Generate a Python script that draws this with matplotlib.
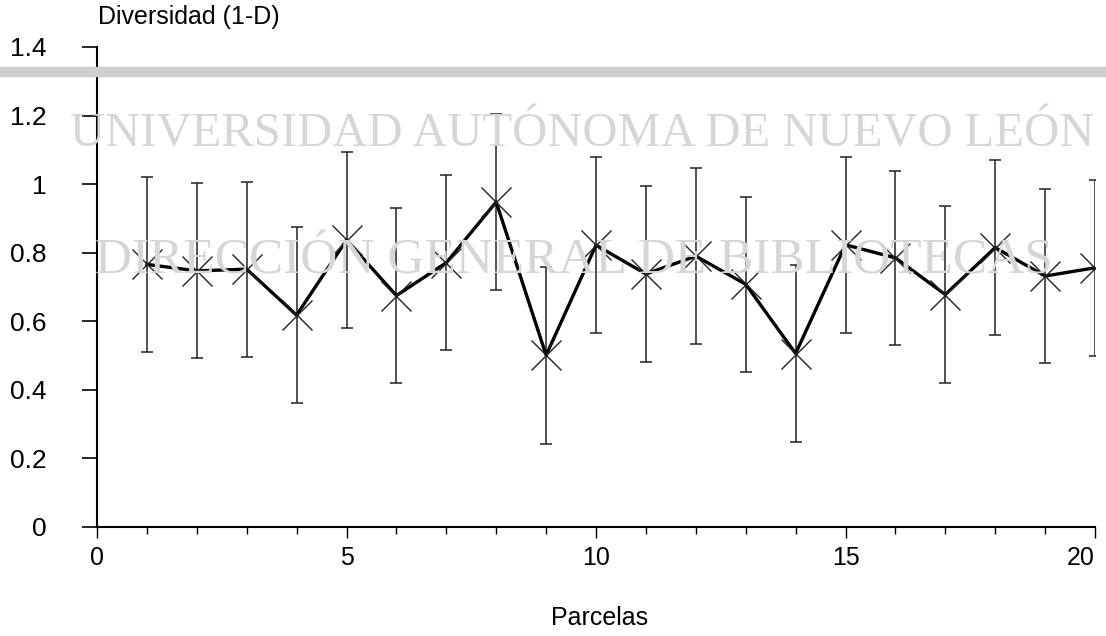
import matplotlib
matplotlib.use("Agg")
import matplotlib.pyplot as plt
from matplotlib.ticker import MultipleLocator
import numpy as np

# Diversidad de Simpson (1-D) por parcela, con barras de error
parcelas = [1, 2, 3, 4, 5, 6, 7, 8, 9, 10, 11, 12, 13, 14, 15, 16, 17, 18, 19, 20]
diversidad = [0.766, 0.747, 0.752, 0.618, 0.837, 0.675, 0.771, 0.948, 0.501, 0.822,
              0.738, 0.790, 0.708, 0.506, 0.823, 0.785, 0.678, 0.815, 0.732, 0.756]
error = [0.255, 0.255, 0.255, 0.257, 0.257, 0.256, 0.255, 0.257, 0.258, 0.257,
         0.256, 0.256, 0.255, 0.257, 0.257, 0.254, 0.257, 0.255, 0.255, 0.257]
xticks = [0, 5, 10, 15, 20]
yticks = [0, 0.2, 0.4, 0.6, 0.8, 1, 1.2, 1.4]
ytick_labels = ["0", "0.2", "0.4", "0.6", "0.8", "1", "1.2", "1.4"]

plt.rcParams['font.family'] = ['Liberation Sans', 'DejaVu Sans']

fig = plt.figure(figsize=(11.06, 6.36), dpi=100)
ax = fig.add_axes([97 / 1106, 1 - 527 / 636, 998 / 1106, 480 / 636])

# watermark from the scanned page
wm = dict(family=['Liberation Serif', 'DejaVu Serif'], color='#d6d6d6',
          ha='center', va='baseline', zorder=0)
fig.text(582 / 1106, 1 - 146 / 636, "UNIVERSIDAD AUTÓNOMA DE NUEVO LEÓN", fontsize=35, **wm)
fig.text(574 / 1106, 1 - 274 / 636, "DIRECCIÓN GENERAL DE BIBLIOTECAS", fontsize=37, **wm)
fig.patches.append(plt.Rectangle((0, 1 - 76 / 636), 1, 9 / 636, transform=fig.transFigure,
                                 color='#cfcfcf', zorder=0))

ax.patch.set_alpha(0)
ax.errorbar(parcelas, diversidad, yerr=error, fmt='none', ecolor='#222222',
            elinewidth=1.1, capsize=4.5, capthick=1.1, zorder=2)
ax.plot(parcelas, diversidad, color='black', lw=2.4, marker='x', markersize=21,
        markeredgewidth=1.0, markeredgecolor='#222222', zorder=3)

ax.set_xticks(xticks)
ax.xaxis.set_minor_locator(MultipleLocator(1))
ax.set_xlim(0, 20)
ax.set_ylim(0, 1.4)
ax.set_yticks(yticks)
ax.set_yticklabels(ytick_labels)

for s in ['top', 'right']:
    ax.spines[s].set_visible(False)
for s in ['left', 'bottom']:
    ax.spines[s].set_linewidth(1.5)
    ax.spines[s].set_color('black')

ax.tick_params(axis='y', direction='out', length=11, width=1.2, pad=25, labelsize=19)
ax.tick_params(axis='x', which='major', direction='out', length=8, width=1.0, pad=6,
               labelsize=18)
ax.tick_params(axis='x', which='minor', direction='out', length=5, width=1.0)

# keep the last x label inside the page
ax.get_xticklabels()[-1].set_horizontalalignment('right')

fig.text(98 / 1106, 1 - 17 / 636, "Diversidad (1-D)", fontsize=18, ha='left', va='center')
fig.text(600 / 1106, 1 - 618 / 636, "Parcelas", fontsize=18, ha='center', va='center')

fig.savefig("out.png", dpi=100)
